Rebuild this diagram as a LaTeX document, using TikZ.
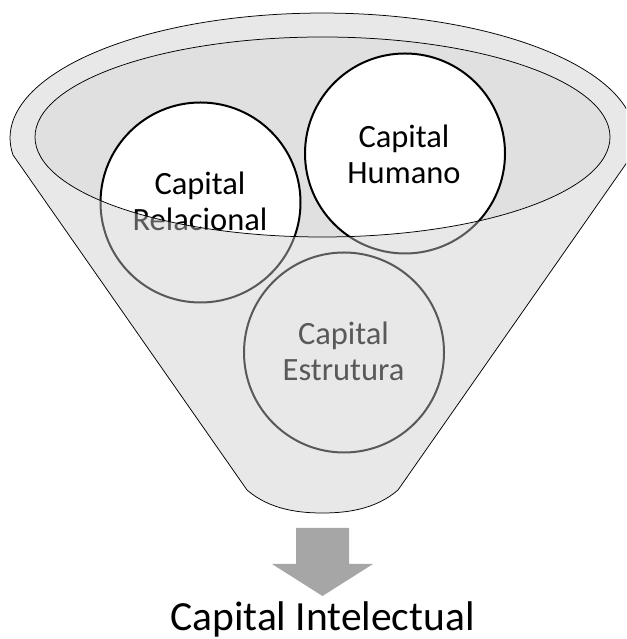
\documentclass[tikz,border=0pt]{standalone}
\usepackage{fontspec}
\setmainfont{Carlito}
\definecolor{funnelfill}{HTML}{E8E8E8}
\definecolor{mouthfill}{HTML}{E0E0E0}
\definecolor{blockarrow}{HTML}{A6A6A6}
\tikzset{
  outline/.style={draw=black, line width=0.75pt},
  discline/.style={draw=black, line width=2pt},
  disclabel/.style={font=\fontsize{32.5}{36}\selectfont, align=center, inner sep=0pt},
  resultlabel/.style={font=\fontsize{41.5}{46}\selectfont, inner sep=0pt, anchor=base},
}
\begin{document}
\begin{tikzpicture}[x=1pt, y=1pt]
\useasboundingbox (0,0) rectangle (626,639);
\clip (0,0) rectangle (626,639);

% funnel body: top rim of the outer ellipse, straight sides, rounded spout
\def\funnelpath{(13,484) arc[start angle=187.8, end angle=-7.8, x radius=312.5pt, y radius=125pt]
  -- (398,149) .. controls (375,129) and (345,126) .. (322.5,126)
  .. controls (300,126) and (270,129) .. (247,149) -- cycle}
\def\mouthpath{(322.5,502) ellipse[x radius=287.5pt, y radius=100pt]}

\coordinate (relc) at (200.5,436.5);
\coordinate (humc) at (405,485.5);
\coordinate (estc) at (344,286.5);

\fill[funnelfill] \funnelpath;
\fill[mouthfill] \mouthpath;

% discs are white only where they show through the mouth
\begin{scope}
  \clip \mouthpath;
  \fill[white] (relc) circle[radius=100pt];
  \fill[white] (humc) circle[radius=100pt];
\end{scope}

\draw[discline] (relc) circle[radius=100pt];
\draw[discline] (humc) circle[radius=100pt];
\draw[discline] (estc) circle[radius=100pt];

\node[disclabel] (rel) at (200,437.5) {Capital\\Relacional};
\node[disclabel] (hum) at (404,485) {Capital\\Humano};
\node[disclabel] (est) at (343.5,287.5) {Capital\\Estrutura};

% funnel wall seen in front of the discs, mouth left open
\fill[funnelfill, fill opacity=0.385, even odd rule] \funnelpath \mouthpath;

\draw[outline] \funnelpath;
\draw[outline] \mouthpath;

% block arrow below the spout
\fill[blockarrow] (296,111) -- (349,111) -- (349,75) -- (373,75)
  -- (322.5,43) -- (272,75) -- (296,75) -- cycle;

\node[resultlabel] (ci) at (322.5,9) {Capital Intelectual};
\end{tikzpicture}
\end{document}
